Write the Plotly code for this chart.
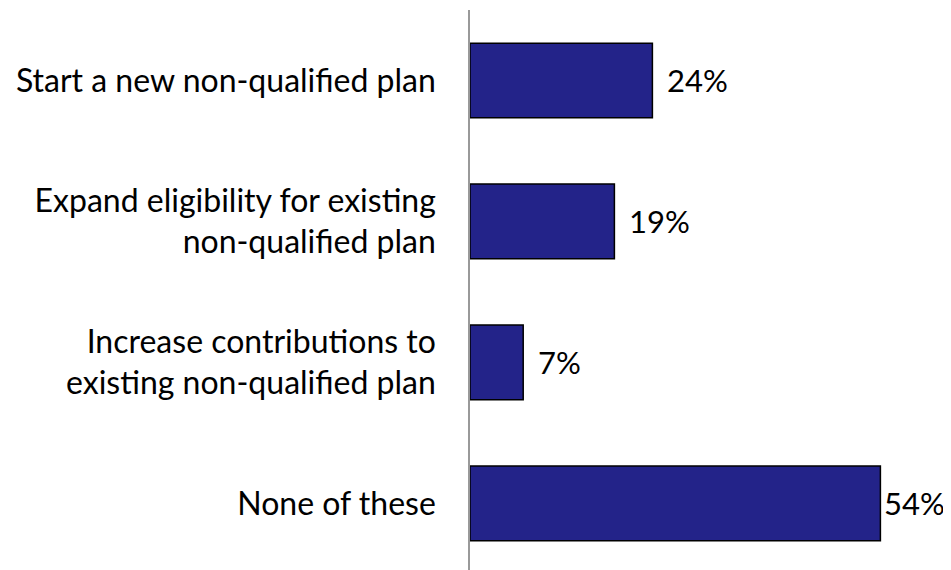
import plotly.graph_objects as go

categories = [
    "Start a new non-qualified plan",
    "Expand eligibility for existing<br>non-qualified plan",
    "Increase contributions to<br>existing non-qualified plan",
    "None of these",
]
values = [24, 19, 7, 54]
labels = ["24%", "19%", "7%", "54%"]
label_shift = [13, 13, 13, 2]

FONT = "Lato"
SIZE = 31

fig = go.Figure()
fig.add_trace(go.Bar(
    x=values, y=categories, orientation="h",
    marker=dict(color="#232389", line=dict(color="black", width=1.5)),
    width=0.53,
))
for v, c, t, s in zip(values, categories, labels, label_shift):
    fig.add_annotation(x=v, y=c, text=t, showarrow=False, xanchor="left",
                       xshift=s, font=dict(size=SIZE, color="black", family=FONT))

# page body has an 8px default margin, so the figure is slightly smaller
fig.update_layout(
    width=943, height=562,
    margin=dict(l=462, r=0, t=2, b=0, autoexpand=False),
    paper_bgcolor="white", plot_bgcolor="white",
    showlegend=False,
    font=dict(family=FONT, size=SIZE, color="black"),
    xaxis=dict(range=[0, 481 / 7.6], visible=False, automargin=False),
    yaxis=dict(autorange=False, range=[3.472, -0.5], showline=True, linecolor="#999999",
               linewidth=1.5, ticks="", showgrid=False, ticklabelstandoff=26,
               automargin=False, tickfont=dict(size=32, family=FONT)),
)
fig.write_html("out.html")
